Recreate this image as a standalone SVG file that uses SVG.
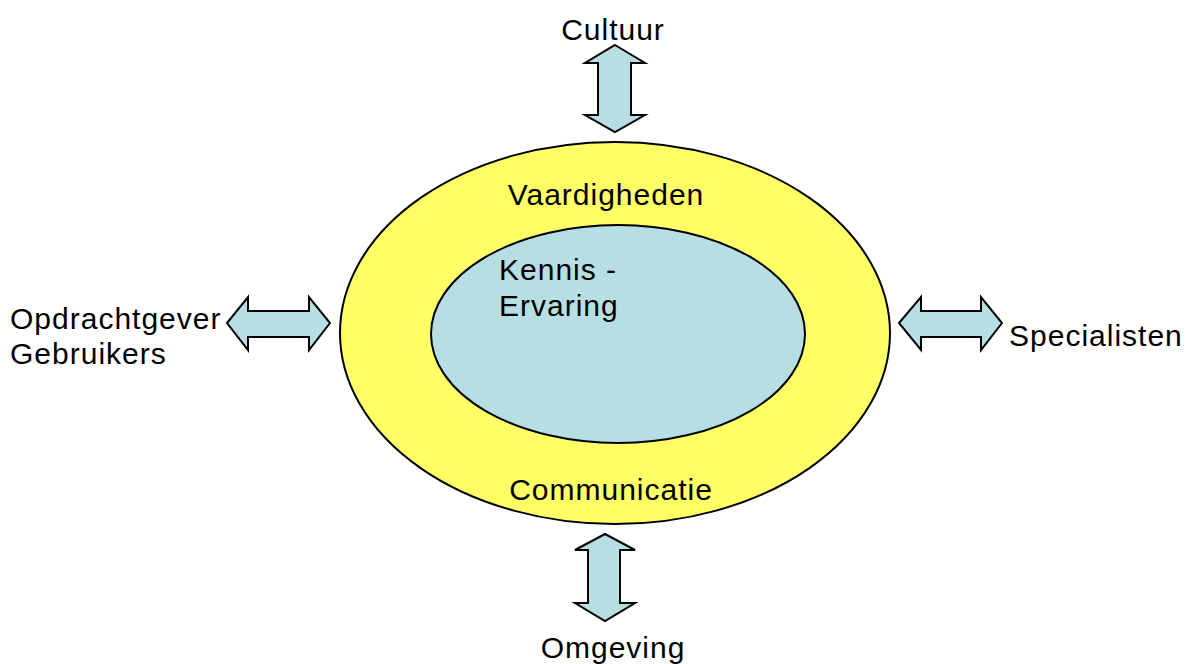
<svg xmlns="http://www.w3.org/2000/svg" width="1191" height="664" viewBox="0 0 1191 664">
<style>
text{font-family:"Liberation Sans",Arial,sans-serif;font-size:30px;letter-spacing:1px;fill:#000}
.arrow{fill:#b7dfe3;stroke:#000;stroke-width:2;stroke-linejoin:miter}
</style>
<rect width="1191" height="664" fill="#fff"/>
<g id="outer">
<ellipse cx="615" cy="333" rx="275" ry="191" fill="#ffff66" stroke="#000" stroke-width="2"/>
<text x="606" y="205" text-anchor="middle">Vaardigheden</text>
<text x="611" y="500" text-anchor="middle">Communicatie</text>
</g>
<g id="inner">
<ellipse cx="618" cy="334" rx="187" ry="109" fill="#b7dfe3" stroke="#000" stroke-width="2"/>
<text x="499" y="280">Kennis -</text>
<text x="499" y="316">Ervaring</text>
</g>
<g id="cultuur"><text x="613" y="40" text-anchor="middle">Cultuur</text></g>
<g id="omgeving"><text x="613" y="658" text-anchor="middle">Omgeving</text></g>
<g id="opdrachtgever"><text x="10" y="329">Opdrachtgever</text><text x="10" y="364">Gebruikers</text></g>
<g id="specialisten"><text x="1009" y="346">Specialisten</text></g>
<g id="connectors">
<polygon class="arrow" points="615,45 645,63 631,63 631,115 645,115 615,132 585,115 598,115 598,63 585,63"/>
<polygon class="arrow" points="605,534 635,550 620,550 620,603 635,603 605,621 575,603 588,603 588,550 575,550"/>
<polygon class="arrow" points="227,323 248,297 248,311 309,311 309,297 330,323 309,350 309,337 248,337 248,350"/>
<polygon class="arrow" points="899,323 921,297 921,311 981,311 981,297 1002,323 981,350 981,337 921,337 921,350"/>
</g>
</svg>
